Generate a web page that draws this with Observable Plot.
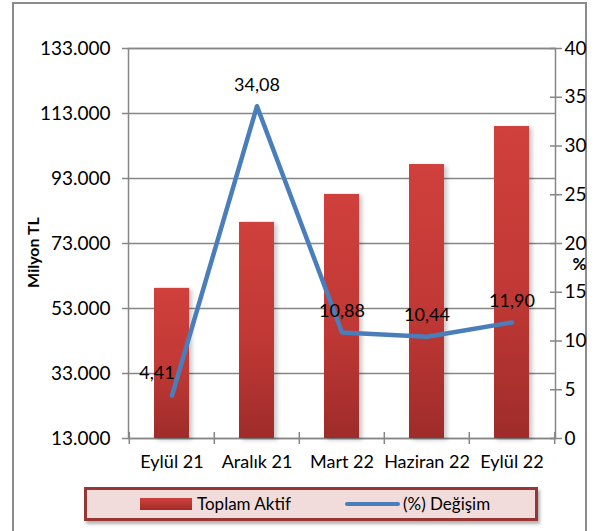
<!DOCTYPE html>
<html><head><meta charset="utf-8">
<script src="https://cdn.jsdelivr.net/npm/d3@7"></script>
<script src="https://cdn.jsdelivr.net/npm/@observablehq/plot@0.6"></script>
<style>
body{margin:0;background:#fff;font-family:Lato, "Open Sans", sans-serif;}
#wrap{position:relative;width:604px;height:531px;overflow:hidden;}
#frame{position:absolute;left:12px;top:2px;width:571px;height:600px;border:2px solid #8c8c8c;}
#chart{position:absolute;left:0;top:0;}
#legend{position:absolute;left:84px;top:487px;width:448px;height:28px;border:3px solid #953735;background:#F2DCDB;box-shadow:2px 3px 3px rgba(0,0,0,0.3);font-size:17px;color:#000;}
#legend .sw{position:absolute;left:53px;top:8px;width:52px;height:12px;background:linear-gradient(#D0403C,#9E2C2A);}
#legend .t1{position:absolute;left:110px;top:3px;line-height:22px;}
#legend .ln{position:absolute;left:258px;top:12px;width:55px;height:4px;border-radius:2px;background:#4A7EBB;}
#legend .t2{position:absolute;left:316px;top:3px;line-height:22px;}
.bars rect{filter:drop-shadow(3px 2px 2px rgba(0,0,0,0.22));}
</style></head>
<body><div id="wrap"><div id="frame"></div><div id="chart"></div>
<div id="legend"><span class="sw"></span><span class="t1">Toplam Aktif</span><span class="ln"></span><span class="t2">(%) Değişim</span></div>
</div>
<script>
const categories = ["Eylül 21", "Aralık 21", "Mart 22", "Haziran 22", "Eylül 22"];
const toplamAktif = [59200, 79500, 88100, 97300, 109000];
const degisim = [4.41, 34.08, 10.88, 10.44, 11.90];
const leftTicks = [13000, 33000, 53000, 73000, 93000, 113000, 133000];
const rightTicks = [0, 5, 10, 15, 20, 25, 30, 35, 40];

const pctToY = p => 13000 + p * 3000; // maps % axis (0–40) onto the shared y scale (13.000–133.000)
const data = categories.map((c, i) => ({cat: c, aktif: toplamAktif[i], pct: degisim[i]}));
const fmtTL = d => d3.format(",")(d).replace(/,/g, ".");
const fmtPct = d => d.toFixed(2).replace(".", ",");
const gray = "#868686";
const W = 604, mL = 128, mR = 49;
const step = (W - mL - mR) / categories.length;

const chart = Plot.plot({
  width: W, height: 480,
  marginTop: 48, marginBottom: 42, marginLeft: mL, marginRight: mR,
  style: {fontFamily: "Lato, 'Open Sans', sans-serif", fontSize: "18px", color: "#000", background: "transparent", overflow: "visible"},
  x: {domain: categories, paddingInner: 0.59, paddingOuter: 0.295},
  y: {domain: [13000, 133000]},
  marks: [
    Plot.gridY(leftTicks, {stroke: gray, strokeOpacity: 1, strokeWidth: 1.5}),
    Plot.frame({stroke: gray, strokeWidth: 1.5}),
    Plot.barY(data, {x: "cat", y1: d => 13000, y2: "aktif", fill: "url(#barGrad)", className: "bars"}),
    Plot.line(data, {x: "cat", y: d => pctToY(d.pct), stroke: "#4A7EBB", strokeWidth: 4.5, strokeLinecap: "round", strokeLinejoin: "round"}),
    Plot.text(data.slice(0, 1), {x: "cat", y: d => pctToY(d.pct), text: d => fmtPct(d.pct), dx: -15, dy: -22, fill: "#000"}),
    Plot.text(data.slice(1), {x: "cat", y: d => pctToY(d.pct), text: d => fmtPct(d.pct), dy: -21, fill: "#000"}),
    Plot.axisY(leftTicks, {tickFormat: fmtTL, tickSize: 6, tickPadding: 12, stroke: gray, strokeWidth: 1.5, fill: "#000", fontSize: 19, label: null}),
    Plot.axisY(rightTicks.map(pctToY), {anchor: "right", tickFormat: d => String(Math.round((d - 13000) / 3000)), tickSize: 12, dx: -6, tickPadding: 3, stroke: gray, strokeWidth: 1.5, fill: "#000", fontSize: 19, label: null}),
    Plot.axisX({tickSize: 0, tickPadding: 17, fill: "#000", label: null}),
    Plot.axisX({tickSize: 12, dy: -6, dx: -step / 2, tickFormat: () => "", stroke: gray, strokeWidth: 1.5, label: null}),
    Plot.axisX([categories[categories.length - 1]], {tickSize: 12, dy: -6, dx: step / 2, tickFormat: () => "", stroke: gray, strokeWidth: 1.5, label: null}),
    Plot.text(["Milyon TL"], {frameAnchor: "left", textAnchor: "middle", text: d => d, rotate: -90, dx: -95, dy: 9, fontWeight: "bold", fontSize: 16, fill: "#000"}),
    Plot.text(["%"], {frameAnchor: "right", textAnchor: "middle", text: d => d, dx: 24, dy: 21, fontWeight: "bold", fontSize: 17, fill: "#000"})
  ]
});

const defs = d3.select(chart).insert("defs", ":first-child");
const g = defs.append("linearGradient").attr("id", "barGrad").attr("x1", 0).attr("y1", 0).attr("x2", 0).attr("y2", 1);
g.append("stop").attr("offset", "0%").attr("stop-color", "#D0403C");
g.append("stop").attr("offset", "55%").attr("stop-color", "#C03835");
g.append("stop").attr("offset", "100%").attr("stop-color", "#9E2C2A");

document.getElementById("chart").appendChild(chart);
</script>
</body></html>
